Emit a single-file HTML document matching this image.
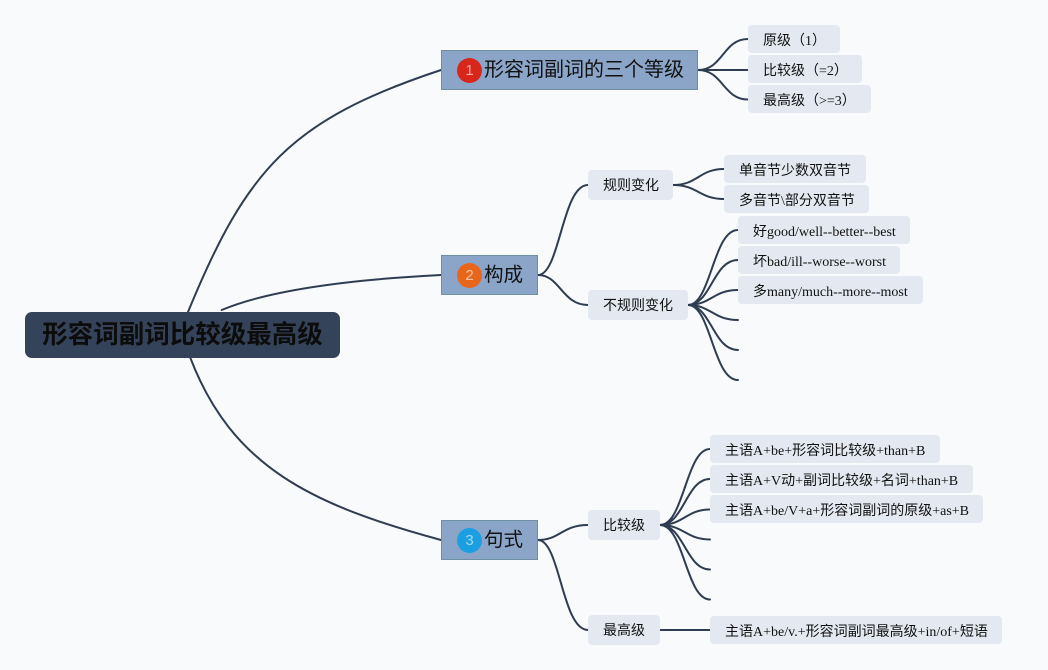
<!DOCTYPE html>
<html>
<head>
<meta charset="utf-8">
<style>
  html, body { margin:0; padding:0; }
  body { width:1048px; height:670px; background:#f9fafb; position:relative; overflow:hidden;
         font-family:"Liberation Serif","Noto Sans CJK SC",serif; }
  svg { position:absolute; left:0; top:0; }
  .root { position:absolute; left:25px; top:312px; width:315px; height:46px; background:#344359;
          border-radius:7px; color:#0c0c0c; font-family:"Liberation Sans","Noto Sans CJK SC",sans-serif;
          font-weight:bold; font-size:25.5px; line-height:46px; text-align:center; white-space:nowrap; }
  .main { position:absolute; left:441px; width:95px; height:38px; background:#8aa5c8; border:1px solid #6c8fa3;
          font-family:"Liberation Sans","Noto Sans CJK SC",sans-serif; color:#111; font-size:19.5px; line-height:38px; }
  .main .ic { position:absolute; left:15px; top:6.5px; width:25px; height:25px; border-radius:50%;
              font-size:15px; line-height:25px; text-align:center; color:rgba(255,255,255,0.6);
              font-family:"Liberation Sans",sans-serif; }
  .main .t { position:absolute; left:42px; top:0; white-space:nowrap; }
  .sub { position:absolute; left:588px; height:30px; background:#e4e9f1; border-radius:4px;
         font-family:"Liberation Sans","Noto Sans CJK SC",sans-serif; font-size:14px; line-height:31px;
         color:#111; padding-left:15px; box-sizing:border-box; white-space:nowrap; }
  .ch { position:absolute; height:28px; background:#e4e9f1; border-radius:4px; font-size:14px; line-height:33px;
        color:#111; padding-left:15px; box-sizing:border-box; white-space:nowrap; overflow:visible;
        font-family:"Liberation Serif","Noto Sans CJK SC",serif; }
</style>
</head>
<body>
<svg width="1048" height="670" viewBox="0 0 1048 670">
  <g fill="none" stroke="#2f3d52" stroke-width="2" stroke-linecap="round">
    <path d="M188,312 C246.7,169.2 290,120 441,70"/>
    <path d="M221.7,310 Q286.5,282.8 441,275"/>
    <path d="M190,357 C231.8,467 311.7,505 441,540"/>

    <path d="M698,70 C723,70 723,39 748,39"/>
    <path d="M698,70 L748,70"/>
    <path d="M698,70 C723,70 723,99.5 748,99.5"/>

    <path d="M538,275 C560,275 562,185 588,185"/>
    <path d="M538,275 C560,275 562,305 588,305"/>

    <path d="M673,185 C698,185 699,169 724,169"/>
    <path d="M673,185 C698,185 699,199 724,199"/>

    <path d="M688,305 C711,305 713,230 738,230"/>
    <path d="M688,305 C711,305 713,260 738,260"/>
    <path d="M688,305 C711,305 713,290 738,290"/>
    <path d="M688,305 C711,305 713,320 738,320"/>
    <path d="M688,305 C711,305 713,350 738,350"/>
    <path d="M688,305 C711,305 713,380 738,380"/>

    <path d="M538,540 C560,540 562,525 588,525"/>
    <path d="M538,540 C560,540 562,630 588,630"/>

    <path d="M660,525 C684,525 686,449 710,449"/>
    <path d="M660,525 C684,525 686,479 710,479"/>
    <path d="M660,525 C684,525 686,509.5 710,509.5"/>
    <path d="M660,525 C684,525 686,539.5 710,539.5"/>
    <path d="M660,525 C684,525 686,569.5 710,569.5"/>
    <path d="M660,525 C684,525 686,599.5 710,599.5"/>

    <path d="M660,630 L710,630"/>
  </g>
</svg>

<div class="root">形容词副词比较级最高级</div>

<div class="main" style="top:50px;width:255px;font-size:20px;">
  <div class="ic" style="background:#d9261a;top:7px;">1</div>
  <div class="t">形容词副词的三个等级</div>
</div>
<div class="main" style="top:255px;">
  <div class="ic" style="background:#e8661c;">2</div>
  <div class="t">构成</div>
</div>
<div class="main" style="top:520px;">
  <div class="ic" style="background:#1c9fe2;">3</div>
  <div class="t">句式</div>
</div>

<div class="ch" style="left:748px;top:25px;width:92px;">原级（1）</div>
<div class="ch" style="left:748px;top:55px;width:114px;">比较级（=2）</div>
<div class="ch" style="left:748px;top:85px;width:123px;">最高级（&gt;=3）</div>

<div class="sub" style="top:170px;width:85px;">规则变化</div>
<div class="sub" style="top:290px;width:100px;">不规则变化</div>

<div class="ch" style="left:724px;top:155px;width:142px;">单音节少数双音节</div>
<div class="ch" style="left:724px;top:185px;width:145px;">多音节\部分双音节</div>

<div class="ch" style="left:738px;top:216px;width:172px;">好good/well--better--best</div>
<div class="ch" style="left:738px;top:246px;width:162px;">坏bad/ill--worse--worst</div>
<div class="ch" style="left:738px;top:276px;width:185px;">多many/much--more--most</div>

<div class="sub" style="top:510px;width:72px;">比较级</div>
<div class="sub" style="top:615px;width:72px;">最高级</div>

<div class="ch" style="left:710px;top:435px;width:230px;">主语A+be+形容词比较级+than+B</div>
<div class="ch" style="left:710px;top:465px;width:263px;">主语A+V动+副词比较级+名词+than+B</div>
<div class="ch" style="left:710px;top:495px;width:273px;">主语A+be/V+a+形容词副词的原级+as+B</div>
<div class="ch" style="left:710px;top:616px;width:292px;">主语A+be/v.+形容词副词最高级+in/of+短语</div>
</body>
</html>
